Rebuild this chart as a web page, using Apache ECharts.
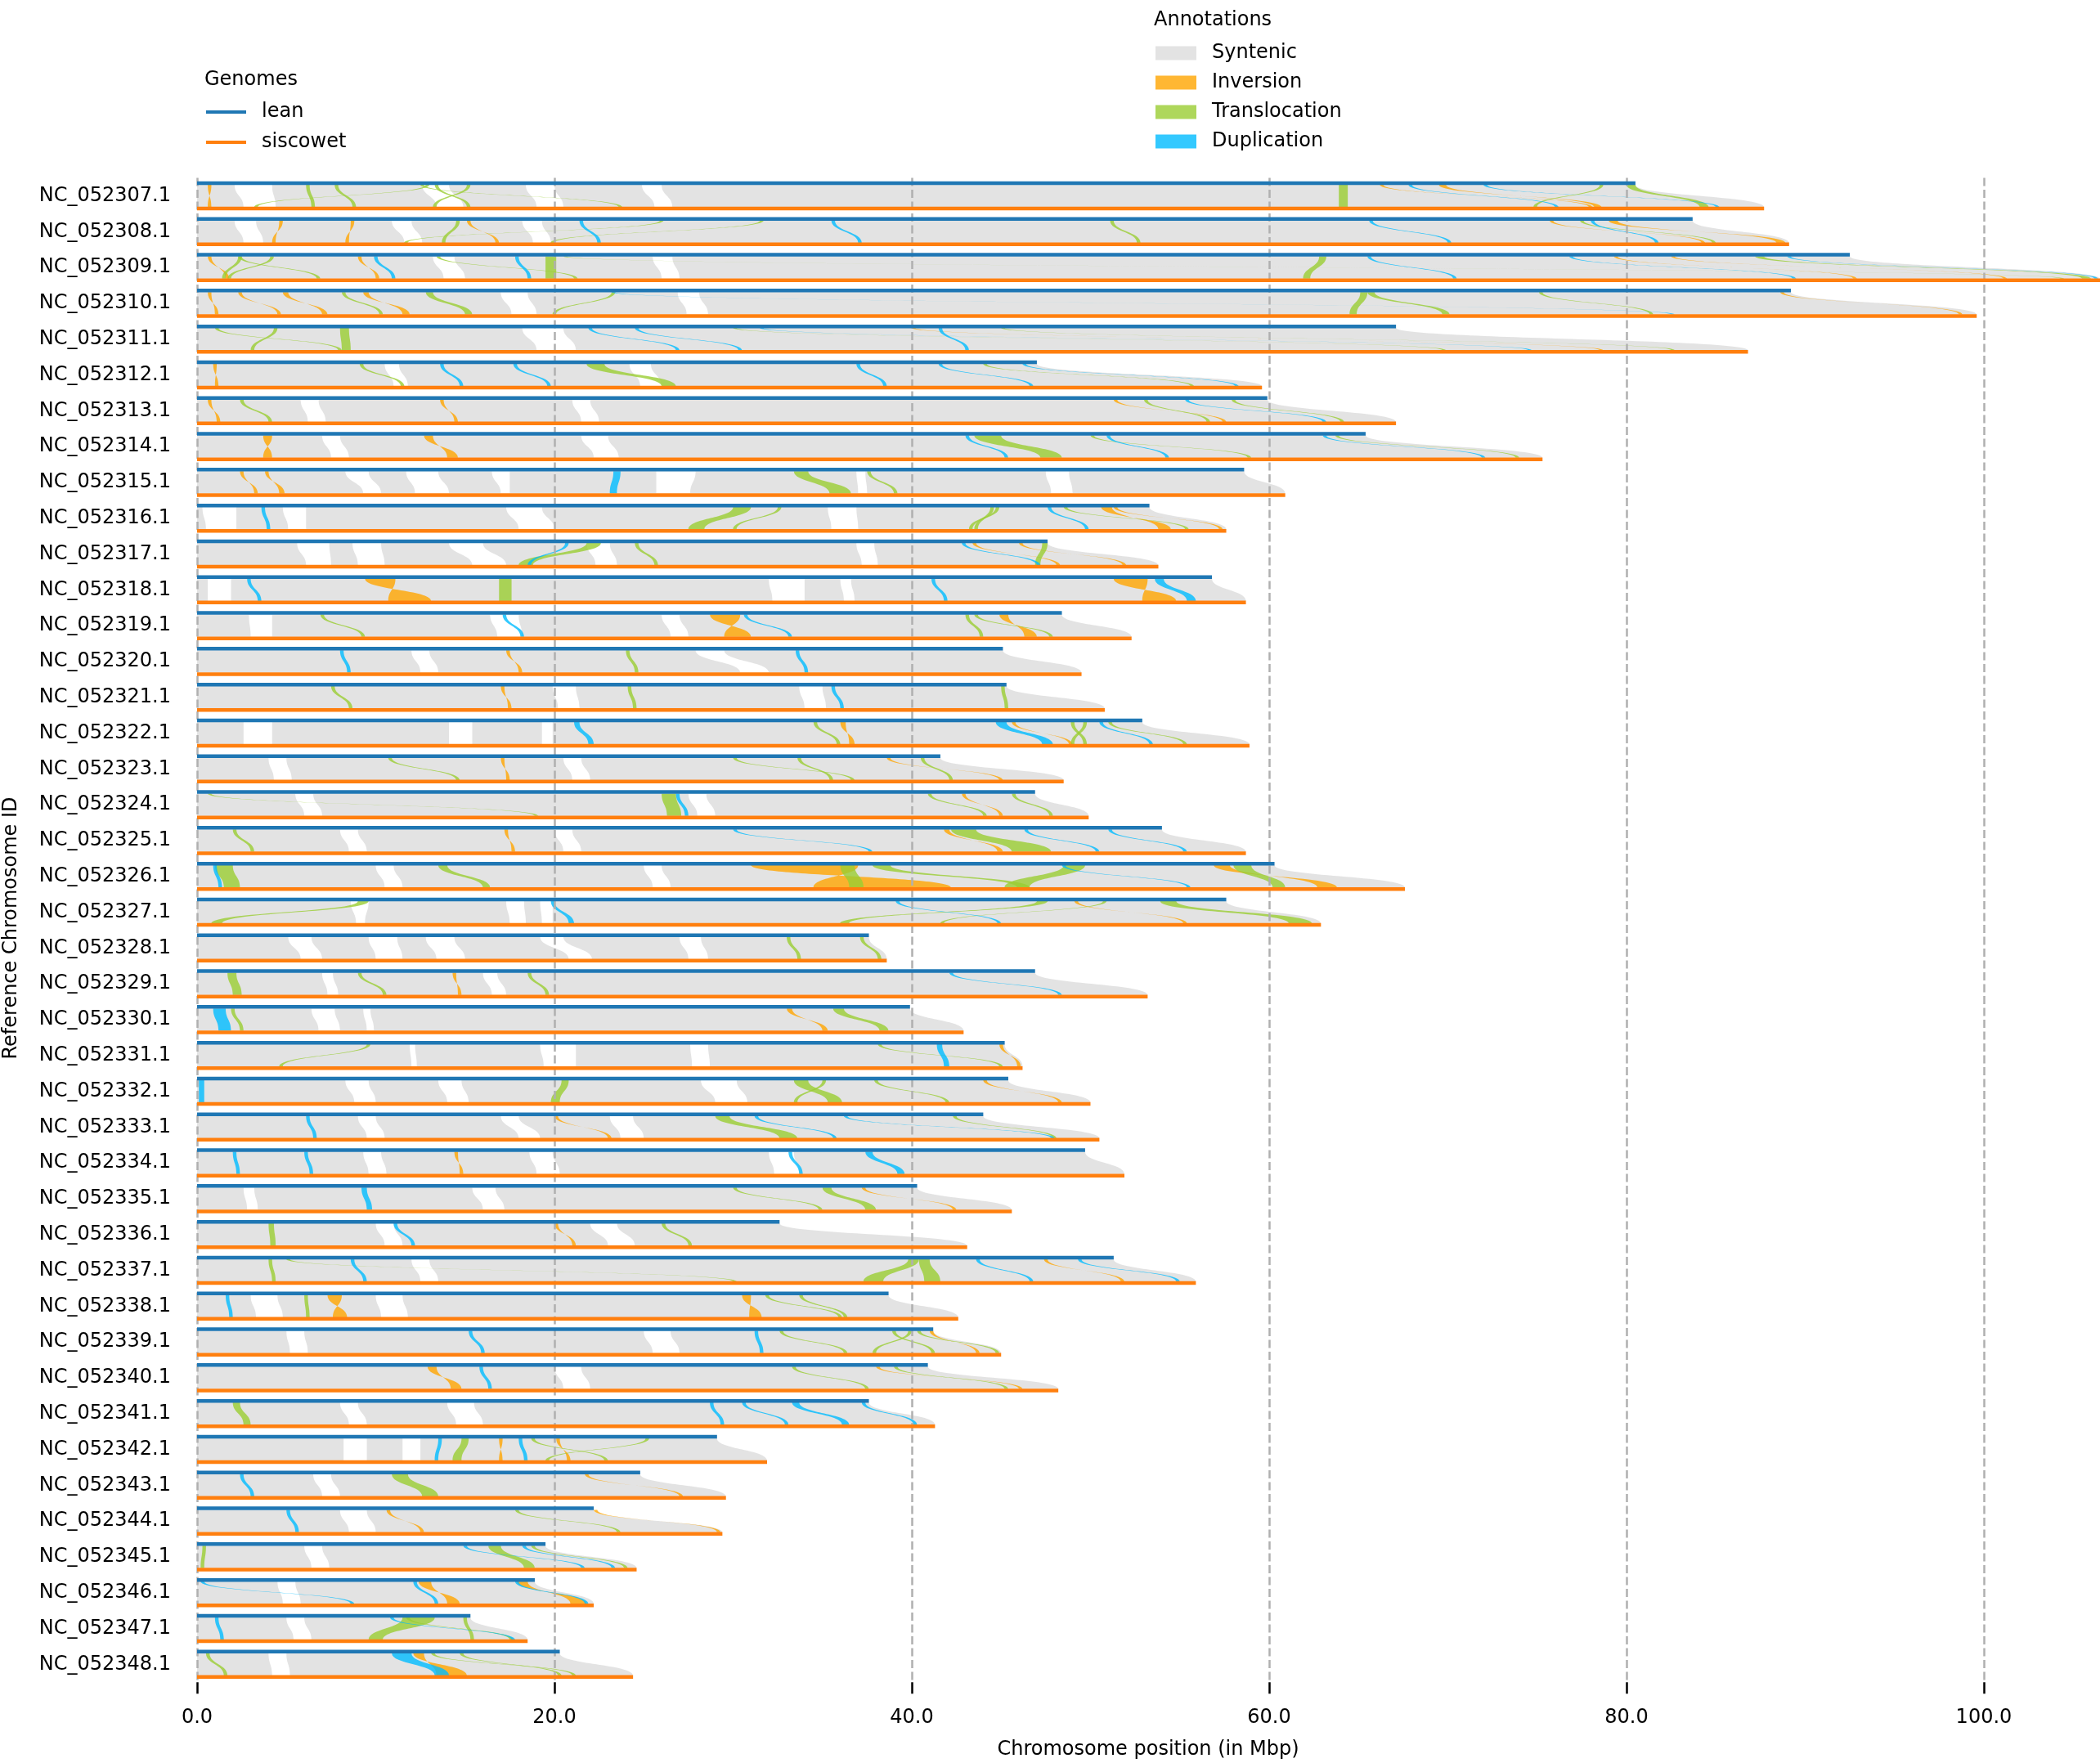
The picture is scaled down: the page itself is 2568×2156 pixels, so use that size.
<!DOCTYPE html>
<html>
<head>
<meta charset="utf-8">
<script src="https://cdn.jsdelivr.net/npm/echarts@6/dist/echarts.min.js"></script>
<style>
  html, body { margin: 0; padding: 0; background: #fff; }
  #chart { width: 2568px; height: 2156px; }
</style>
</head>
<body>
<div id="chart"></div>
<script>
// reference chromosomes, top to bottom
var chromosomes = ['NC_052307.1', 'NC_052308.1', 'NC_052309.1', 'NC_052310.1', 'NC_052311.1', 'NC_052312.1',
  'NC_052313.1', 'NC_052314.1', 'NC_052315.1', 'NC_052316.1', 'NC_052317.1', 'NC_052318.1',
  'NC_052319.1', 'NC_052320.1', 'NC_052321.1', 'NC_052322.1', 'NC_052323.1', 'NC_052324.1',
  'NC_052325.1', 'NC_052326.1', 'NC_052327.1', 'NC_052328.1', 'NC_052329.1', 'NC_052330.1',
  'NC_052331.1', 'NC_052332.1', 'NC_052333.1', 'NC_052334.1', 'NC_052335.1', 'NC_052336.1',
  'NC_052337.1', 'NC_052338.1', 'NC_052339.1', 'NC_052340.1', 'NC_052341.1', 'NC_052342.1',
  'NC_052343.1', 'NC_052344.1', 'NC_052345.1', 'NC_052346.1', 'NC_052347.1', 'NC_052348.1'];

// chromosome lengths in Mbp
var leanLength = [80.5, 83.7, 92.5, 89.2, 67.1, 47.0, 59.9, 65.4, 58.6, 53.3, 47.6, 56.8,
  48.4, 45.1, 45.3, 52.9, 41.6, 46.9, 54.0, 60.3, 57.6, 37.6, 46.9, 39.9,
  45.2, 45.4, 44.0, 49.7, 40.3, 32.6, 51.3, 38.7, 41.2, 40.9, 37.6, 29.1,
  24.8, 22.2, 19.5, 18.9, 15.3, 20.3];
var siscowetLength = [87.7, 89.1, 106.5, 99.6, 86.8, 59.6, 67.1, 75.3, 60.9, 57.6, 53.8, 58.7,
  52.3, 49.5, 50.8, 58.9, 48.5, 49.9, 58.7, 67.6, 62.9, 38.6, 53.2, 42.9,
  46.2, 50.0, 50.5, 51.9, 45.6, 43.1, 55.9, 42.6, 45.0, 48.2, 41.3, 31.9,
  29.6, 29.4, 24.6, 22.2, 18.5, 24.4];

var xTicks = [0, 20, 40, 60, 80, 100];

// all regions below: [row, lean start, lean end, siscowet start, siscowet end] (Mbp)
// unaligned stretches between syntenic blocks
var gaps = [
  [0, 2.1, 4.2, 2.6, 4.4], [0, 12.6, 14.1, 13.4, 14.9], [0, 18.4, 20.0, 19.0, 20.5], [0, 24.9, 26.0, 25.6, 26.6],
  [1, 2.1, 3.3, 2.6, 3.7], [1, 10.9, 12.0, 11.6, 12.6], [1, 18.2, 19.3, 18.8, 19.8],
  [2, 13.2, 14.4, 13.8, 15.0], [2, 25.5, 26.6, 26.0, 27.0],
  [3, 17.0, 18.5, 17.6, 19.0], [3, 26.9, 28.1, 27.4, 28.6],
  [4, 18.2, 20.5, 19.0, 21.2],
  [5, 10.5, 11.3, 11.0, 11.8], [5, 24.2, 25.4, 24.8, 26.0],
  [6, 5.8, 6.8, 6.2, 7.2], [6, 21.0, 22.0, 21.5, 22.5],
  [7, 7.0, 8.0, 7.5, 8.5], [7, 21.5, 23.0, 22.2, 23.6],
  [8, 8.3, 9.6, 9.3, 10.3], [8, 11.7, 13.5, 12.2, 14.1], [8, 16.5, 17.5, 17.0, 17.5], [8, 25.7, 27.9, 25.7, 27.6],
  [8, 36.9, 37.4, 37.0, 37.5], [8, 47.5, 48.8, 47.8, 49.0],
  [9, 0.3, 2.2, 0.5, 2.2], [9, 4.8, 6.1, 5.1, 6.1], [9, 17.3, 19.3, 18.0, 20.0], [9, 35.3, 36.9, 35.5, 37.0],
  [10, 5.6, 7.4, 6.1, 7.5], [10, 8.7, 10.3, 9.0, 10.5], [10, 14.1, 16.0, 15.4, 17.3], [10, 21.8, 23.1, 22.3, 23.5], [10, 36.9, 37.9, 37.2, 38.1],
  [11, 0.6, 1.9, 0.6, 1.9], [11, 32.0, 34.0, 32.2, 34.0], [11, 36.0, 36.6, 36.2, 36.8],
  [12, 2.9, 4.2, 3.0, 4.2], [12, 16.4, 18.0, 16.8, 18.2], [12, 26.0, 27.0, 26.5, 27.5],
  [13, 27.9, 29.5, 30.4, 32.0], [13, 12.0, 13.0, 12.5, 13.5],
  [14, 19.9, 21.2, 20.2, 21.4], [14, 33.7, 35.0, 34.0, 35.2],
  [15, 2.6, 4.2, 2.6, 4.2], [15, 14.1, 15.4, 14.1, 15.4], [15, 19.3, 19.9, 19.3, 19.9],
  [16, 4.0, 5.0, 4.3, 5.3], [16, 20.5, 21.5, 21.0, 22.0],
  [17, 5.5, 6.5, 6.0, 7.0], [17, 27.5, 28.5, 28.0, 29.0],
  [18, 8.0, 9.0, 8.5, 9.5], [18, 20.0, 21.0, 20.5, 21.5],
  [19, 10.0, 11.0, 10.5, 11.5], [19, 25.0, 26.0, 25.5, 26.5],
  [20, 8.6, 9.6, 8.9, 9.4], [20, 17.3, 18.3, 17.5, 18.4], [20, 19.2, 19.9, 19.3, 19.9],
  [21, 5.1, 6.4, 5.8, 7.0], [21, 9.6, 11.2, 10.0, 11.5], [21, 12.8, 14.4, 13.4, 15.0], [21, 19.2, 20.5, 20.8, 22.1], [21, 27.0, 28.2, 27.5, 28.6],
  [22, 7.0, 7.6, 7.3, 7.9], [22, 16.0, 16.8, 16.5, 17.3],
  [23, 6.4, 7.7, 6.8, 8.0], [23, 9.3, 9.7, 9.5, 9.9],
  [24, 19.2, 21.2, 19.4, 21.2], [24, 27.6, 28.6, 27.7, 28.7], [24, 11.9, 12.2, 12.0, 12.3],
  [25, 8.3, 9.6, 8.8, 10.0], [25, 13.5, 14.8, 14.0, 15.2], [25, 28.2, 30.2, 29.0, 30.8],
  [26, 9.0, 10.0, 9.5, 10.5], [26, 17.0, 18.0, 18.0, 19.2], [26, 23.1, 24.4, 23.7, 25.0],
  [27, 9.3, 10.3, 9.6, 10.6], [27, 18.6, 19.9, 19.0, 20.3], [27, 32.0, 33.4, 32.3, 33.7],
  [28, 2.6, 3.2, 2.8, 3.4], [28, 15.4, 16.7, 16.0, 17.2],
  [29, 10.0, 11.0, 10.5, 11.5], [29, 22.0, 23.5, 23.0, 24.5],
  [30, 12.0, 13.0, 12.5, 13.5],
  [31, 3.0, 4.5, 3.3, 4.8], [31, 10.0, 11.5, 10.3, 11.8],
  [32, 5.0, 6.0, 5.2, 6.2], [32, 25.0, 26.5, 25.5, 27.0],
  [33, 20.0, 21.5, 20.5, 22.0],
  [34, 8.0, 9.0, 8.5, 9.5], [34, 14.0, 15.5, 14.5, 16.0],
  [35, 8.2, 9.5, 8.2, 9.5], [35, 11.5, 12.5, 11.5, 12.5],
  [36, 6.5, 7.5, 7.0, 8.0],
  [37, 8.0, 9.5, 8.5, 10.0],
  [38, 6.0, 7.0, 6.4, 7.4],
  [39, 4.5, 5.5, 4.8, 5.8],
  [40, 5.0, 6.0, 5.4, 6.4],
  [41, 4.0, 5.0, 4.2, 5.2]
];
var inversions = [
  [0, 0.6, 0.8, 0.6, 0.8], [0, 66.2, 66.4, 77.9, 78.1], [0, 69.5, 69.9, 78.2, 78.6],
  [1, 4.6, 4.8, 4.2, 4.4], [1, 8.6, 8.8, 8.3, 8.5], [1, 15.1, 15.3, 16.7, 16.9], [1, 75.7, 75.9, 84.2, 84.4], [1, 79.0, 79.5, 88.4, 88.9],
  [2, 0.6, 0.8, 1.6, 1.8], [2, 9.0, 9.2, 10.0, 10.2], [2, 79.3, 79.5, 92.7, 92.9], [2, 82.5, 82.7, 101.1, 101.3],
  [3, 0.6, 0.8, 1.0, 1.2], [3, 2.3, 2.5, 4.5, 4.7], [3, 4.8, 5.1, 7.0, 7.3], [3, 9.3, 9.6, 11.5, 11.9], [3, 88.6, 88.8, 98.6, 98.8],
  [4, 40.0, 40.2, 78.5, 78.7],
  [5, 0.9, 1.1, 1.0, 1.2],
  [6, 0.6, 0.8, 1.1, 1.3], [6, 13.6, 13.8, 14.4, 14.6], [6, 51.3, 51.5, 57.4, 57.6],
  [7, 3.7, 4.2, 3.7, 4.2], [7, 12.7, 13.2, 14.0, 14.6],
  [8, 2.4, 2.6, 3.2, 3.4], [8, 3.8, 4.0, 4.6, 4.9],
  [9, 50.6, 51.2, 53.8, 54.5], [9, 51.3, 51.5, 57.2, 57.4],
  [10, 43.4, 43.6, 48.1, 48.3], [10, 46.0, 46.2, 51.8, 52.0],
  [11, 9.4, 11.1, 10.7, 13.1], [11, 51.3, 53.2, 52.9, 54.8],
  [12, 28.7, 30.4, 29.5, 31.0], [12, 44.9, 45.4, 46.3, 47.0],
  [13, 17.3, 17.5, 18.0, 18.2],
  [14, 17.0, 17.2, 17.4, 17.6],
  [15, 36.0, 36.3, 36.5, 36.8], [15, 45.6, 45.8, 48.8, 49.0],
  [16, 17.0, 17.2, 17.3, 17.5], [16, 38.6, 38.8, 44.9, 45.1],
  [17, 42.8, 43.0, 44.9, 45.1],
  [18, 17.2, 17.4, 17.6, 17.8], [18, 41.8, 42.1, 44.8, 45.1],
  [19, 31.0, 37.0, 34.5, 42.2], [19, 56.9, 57.8, 62.7, 63.8],
  [20, 49.1, 49.3, 55.2, 55.4],
  [22, 14.3, 14.5, 14.6, 14.8],
  [23, 33.0, 33.3, 35.0, 35.3],
  [24, 44.9, 45.1, 45.9, 46.1],
  [25, 44.0, 44.2, 48.2, 48.4],
  [26, 20.0, 20.2, 23.0, 23.2],
  [27, 14.4, 14.6, 14.7, 14.9],
  [28, 37.2, 37.4, 42.3, 42.5],
  [29, 20.0, 20.2, 21.0, 21.2],
  [30, 47.4, 47.6, 51.7, 51.9],
  [31, 7.3, 8.1, 7.6, 8.4], [31, 30.5, 31.0, 30.9, 31.6],
  [32, 41.0, 41.2, 43.6, 43.8],
  [33, 12.9, 13.4, 14.2, 14.8], [33, 38.0, 38.2, 46.0, 46.2],
  [35, 16.9, 17.1, 16.9, 17.1], [35, 20.1, 20.3, 20.7, 20.9],
  [36, 21.7, 21.9, 27.0, 27.2],
  [37, 10.6, 10.8, 12.5, 12.7], [37, 22.2, 22.4, 29.1, 29.3],
  [39, 12.4, 13.1, 14.0, 14.7], [39, 17.9, 18.5, 20.9, 21.8],
  [41, 12.1, 12.7, 13.4, 15.1]
];
var translocations = [
  [0, 6.1, 6.3, 6.4, 6.6], [0, 7.7, 7.9, 8.7, 8.9], [0, 12.5, 12.7, 23.6, 23.8], [0, 15.1, 15.3, 13.2, 13.4],
  [0, 13.3, 13.5, 15.1, 15.3], [0, 12.8, 13.0, 3.2, 3.4], [0, 63.9, 64.4, 63.9, 64.4], [0, 78.5, 78.7, 74.8, 75.0], [0, 80.0, 80.5, 84.1, 84.6],
  [1, 14.5, 14.7, 13.7, 13.9], [1, 25.9, 26.1, 11.6, 11.8], [1, 31.5, 31.7, 19.8, 20.0], [1, 51.1, 51.3, 52.6, 52.8], [1, 77.4, 77.6, 84.8, 85.0],
  [2, 2.3, 2.5, 1.4, 1.6], [2, 4.1, 4.3, 1.7, 1.9], [2, 2.3, 2.5, 6.7, 6.9], [2, 19.5, 20.1, 19.5, 20.1], [2, 13.4, 13.6, 21.1, 21.3],
  [2, 20.5, 20.7, 104.3, 104.5], [2, 62.8, 63.2, 61.9, 62.3], [2, 87.2, 87.7, 105.5, 106.0],
  [3, 8.1, 8.3, 10.2, 10.4], [3, 12.8, 13.2, 15.0, 15.4], [3, 23.2, 23.4, 19.9, 20.1], [3, 65.1, 65.5, 64.5, 64.9],
  [3, 65.5, 65.9, 69.7, 70.1], [3, 75.1, 75.3, 81.3, 81.5],
  [4, 1.0, 1.2, 7.9, 8.1], [4, 4.3, 4.5, 3.0, 3.2], [4, 8.0, 8.5, 8.1, 8.6], [4, 45.0, 45.2, 82.5, 82.7], [4, 30.0, 30.2, 69.7, 69.9],
  [5, 9.1, 9.3, 11.4, 11.6], [5, 21.8, 22.8, 26.0, 26.8], [5, 44.0, 44.2, 55.6, 55.8],
  [6, 2.4, 2.6, 4.0, 4.2], [6, 53.0, 53.2, 56.5, 56.7], [6, 57.9, 58.1, 64.0, 64.2],
  [7, 43.5, 45.0, 47.2, 48.4], [7, 50.0, 50.2, 58.8, 59.0], [7, 63.7, 63.9, 73.8, 74.0],
  [8, 33.4, 34.2, 35.4, 36.6], [8, 37.5, 37.7, 39.0, 39.2],
  [9, 30.0, 31.0, 27.5, 28.4], [9, 32.5, 32.7, 30.0, 30.2], [9, 44.4, 44.6, 43.5, 43.7], [9, 44.7, 44.9, 43.2, 43.4], [9, 48.5, 48.7, 55.3, 55.5],
  [10, 21.8, 22.6, 18.0, 18.8], [10, 24.5, 24.7, 25.6, 25.8], [10, 47.3, 47.6, 46.9, 47.2],
  [11, 16.9, 17.6, 16.9, 17.6],
  [12, 43.0, 43.2, 43.8, 44.0], [12, 43.5, 43.7, 47.7, 47.9], [12, 6.9, 7.1, 9.2, 9.4],
  [13, 24.0, 24.2, 24.5, 24.7],
  [14, 24.1, 24.3, 24.4, 24.6], [14, 45.0, 45.2, 45.2, 45.4], [14, 7.5, 7.7, 8.5, 8.7],
  [15, 34.5, 34.7, 35.8, 36.0], [15, 49.6, 49.8, 48.9, 49.1], [15, 48.9, 49.1, 49.6, 49.8], [15, 51.0, 51.2, 55.2, 55.4],
  [16, 10.7, 10.9, 14.5, 14.7], [16, 33.6, 33.8, 35.4, 35.6], [16, 40.5, 40.7, 42.1, 42.3], [16, 30.0, 30.2, 36.6, 36.8],
  [17, 0.6, 0.8, 18.9, 19.1], [17, 26.0, 26.8, 26.3, 27.1], [17, 40.9, 41.1, 44.0, 44.2], [17, 45.6, 45.8, 47.7, 47.9],
  [18, 2.0, 2.2, 3.0, 3.2], [18, 42.2, 43.6, 45.6, 47.8],
  [19, 36.0, 36.8, 36.5, 37.3], [19, 37.8, 38.8, 45.9, 46.6], [19, 48.5, 49.7, 45.2, 46.6], [19, 58.0, 59.0, 60.2, 60.9],
  [19, 1.0, 2.0, 1.5, 2.4], [19, 13.5, 14.0, 16.0, 16.4],
  [20, 9.0, 9.6, 0.8, 1.4], [20, 47.0, 47.6, 36.0, 36.5], [20, 50.7, 50.9, 41.6, 41.8], [20, 53.9, 54.8, 61.1, 62.4],
  [21, 33.0, 33.2, 33.6, 33.8], [21, 37.1, 37.3, 38.1, 38.3],
  [22, 1.7, 2.2, 2.0, 2.5], [22, 9.0, 9.2, 10.4, 10.6], [22, 18.5, 18.7, 19.5, 19.7],
  [23, 1.9, 2.1, 2.4, 2.6], [23, 35.6, 36.2, 38.2, 38.7],
  [24, 9.5, 9.7, 4.6, 4.8], [24, 38.1, 38.3, 44.9, 45.1],
  [25, 20.4, 20.8, 19.8, 20.3], [25, 33.4, 34.2, 35.3, 36.1], [25, 35.0, 35.2, 33.4, 33.6], [25, 37.9, 38.1, 41.9, 42.1],
  [26, 29.0, 29.8, 32.6, 33.6], [26, 42.3, 42.5, 47.9, 48.1],
  [28, 35.0, 35.5, 37.4, 38.0], [28, 30.0, 30.2, 34.8, 35.0],
  [29, 4.0, 4.3, 4.1, 4.4], [29, 26.0, 26.2, 27.5, 27.7],
  [30, 4.0, 4.2, 4.2, 4.4], [30, 39.8, 40.4, 37.3, 38.4], [30, 40.4, 41.0, 40.7, 41.6], [30, 5.0, 5.2, 30.0, 30.2],
  [31, 6.0, 6.2, 6.1, 6.3], [31, 31.8, 32.0, 35.9, 36.1], [31, 33.7, 33.9, 36.2, 36.4],
  [32, 32.6, 32.8, 36.2, 36.4], [32, 39.8, 40.0, 37.8, 38.0], [32, 38.9, 39.1, 41.1, 41.3], [32, 40.3, 40.5, 44.7, 44.9],
  [33, 33.3, 33.5, 37.4, 37.6], [33, 39.0, 39.2, 45.2, 45.4],
  [34, 2.0, 2.4, 2.6, 3.0],
  [35, 14.8, 15.2, 14.3, 14.8], [35, 18.7, 18.9, 22.8, 23.0], [35, 25.1, 25.3, 19.5, 19.7],
  [36, 10.9, 11.8, 12.6, 13.5],
  [37, 17.8, 18.0, 23.5, 23.7],
  [38, 16.3, 17.0, 18.3, 18.9], [38, 18.7, 18.9, 23.9, 24.1], [38, 0.3, 0.5, 0.2, 0.4],
  [40, 11.5, 13.3, 9.6, 10.4], [40, 14.9, 15.1, 15.3, 15.5], [40, 11.7, 11.9, 17.5, 17.7],
  [41, 13.1, 13.3, 21.0, 21.2], [41, 14.7, 14.9, 20.2, 20.4], [41, 0.5, 0.7, 1.5, 1.7]
];
var duplications = [
  [0, 67.8, 68.0, 76.0, 76.2], [0, 72.0, 72.2, 85.0, 85.2],
  [1, 21.4, 21.6, 22.4, 22.6], [1, 35.5, 35.7, 37.0, 37.2], [1, 65.6, 65.8, 70.0, 70.2], [1, 78.0, 78.2, 81.6, 81.8],
  [2, 9.9, 10.1, 10.9, 11.1], [2, 17.8, 18.0, 18.5, 18.7], [2, 65.5, 65.7, 70.3, 70.5], [2, 76.8, 77.0, 89.3, 89.5], [2, 89.0, 89.2, 106.2, 106.4],
  [3, 23.2, 23.4, 82.5, 82.7],
  [4, 21.9, 22.1, 26.8, 27.0], [4, 24.5, 24.7, 30.3, 30.5], [4, 31.5, 31.7, 74.5, 74.7], [4, 41.5, 41.7, 43.0, 43.2],
  [5, 13.6, 13.8, 14.7, 14.9], [5, 17.7, 17.9, 19.6, 19.8], [5, 36.9, 37.1, 38.4, 38.6], [5, 46.2, 46.4, 58.1, 58.3], [5, 41.5, 41.7, 46.6, 46.8],
  [6, 55.3, 55.5, 63.0, 63.2],
  [7, 43.0, 43.2, 45.2, 45.4], [7, 50.9, 51.1, 54.2, 54.4], [7, 63.0, 63.2, 71.9, 72.1],
  [8, 23.3, 23.7, 23.1, 23.5],
  [9, 3.6, 3.8, 3.9, 4.1], [9, 47.6, 47.8, 49.7, 49.9],
  [10, 20.6, 20.8, 18.5, 18.7], [10, 42.8, 43.0, 47.0, 47.2],
  [11, 41.1, 41.3, 41.8, 42.0], [11, 53.6, 54.1, 55.4, 55.9], [11, 2.8, 3.0, 3.4, 3.6],
  [12, 17.1, 17.3, 18.1, 18.3], [12, 30.6, 30.8, 33.1, 33.3],
  [13, 8.0, 8.2, 8.4, 8.6], [13, 33.5, 33.7, 34.0, 34.2],
  [14, 35.5, 35.7, 36.0, 36.2],
  [15, 21.1, 21.4, 21.9, 22.2], [15, 44.7, 45.3, 47.3, 47.9], [15, 50.5, 50.7, 53.3, 53.5],
  [17, 26.8, 27.0, 27.3, 27.5],
  [18, 30.0, 30.2, 37.6, 37.8], [18, 46.3, 46.5, 50.3, 50.5], [18, 51.0, 51.2, 55.2, 55.4],
  [19, 48.4, 48.6, 55.4, 55.6], [19, 0.9, 1.1, 1.2, 1.4],
  [20, 19.8, 20.0, 20.8, 21.1], [20, 39.1, 39.3, 44.8, 45.0],
  [22, 42.1, 42.3, 48.2, 48.4],
  [23, 0.9, 1.6, 1.2, 1.9],
  [24, 41.4, 41.7, 41.8, 42.1],
  [25, 0.1, 0.4, 0.1, 0.4],
  [26, 6.1, 6.3, 6.5, 6.7], [26, 31.2, 31.4, 35.6, 35.8], [26, 36.2, 36.4, 47.8, 48.0],
  [27, 2.0, 2.2, 2.2, 2.4], [27, 6.0, 6.2, 6.3, 6.5], [27, 33.1, 33.3, 33.7, 33.9], [27, 37.4, 37.8, 39.2, 39.6],
  [28, 9.2, 9.5, 9.5, 9.8],
  [29, 11.0, 11.2, 12.0, 12.2],
  [30, 8.6, 8.8, 9.3, 9.5], [30, 43.6, 43.8, 46.6, 46.8], [30, 49.3, 49.5, 54.8, 55.0],
  [31, 1.6, 1.8, 1.8, 2.0],
  [32, 15.2, 15.4, 15.9, 16.1], [32, 31.2, 31.4, 31.5, 31.7],
  [33, 15.8, 16.0, 16.3, 16.5],
  [34, 28.7, 28.9, 29.3, 29.5], [34, 30.5, 30.7, 32.9, 33.1], [34, 33.3, 33.7, 36.1, 36.5], [34, 37.2, 37.4, 40.1, 40.3],
  [35, 13.5, 13.7, 13.3, 13.5], [35, 18.0, 18.2, 18.3, 18.5],
  [36, 2.4, 2.6, 3.0, 3.2],
  [37, 5.0, 5.2, 5.5, 5.7],
  [38, 14.9, 15.1, 21.5, 21.7], [38, 18.2, 18.4, 23.2, 23.4],
  [39, 12.1, 12.3, 13.3, 13.5], [39, 0.2, 0.4, 8.6, 8.8], [39, 17.8, 18.0, 21.7, 21.9],
  [40, 10.8, 11.0, 17.6, 17.8], [40, 1.0, 1.2, 1.3, 1.5],
  [41, 10.9, 12.0, 13.3, 14.1]
];

var FONT = 'DejaVu Sans';
var BAR_OFF = 0.355;   // genome line offset from row centre
var RIB_OFF = 0.31;    // ribbon ends, just inside the lines

var syntenic = chromosomes.map(function (c, i) {
  return [i, 0, leanLength[i], 0, siscowetLength[i]];
});
var leanBars = chromosomes.map(function (c, i) { return [i, leanLength[i]]; });
var siscowetBars = chromosomes.map(function (c, i) { return [i, siscowetLength[i]]; });

function ribbon(color, twisted) {
  return function (params, api) {
    var r = api.value(0);
    var yT = api.coord([0, r - RIB_OFF])[1];
    var yB = api.coord([0, r + RIB_OFF])[1];
    var yM = (yT + yB) / 2;
    var a = api.coord([api.value(1), r])[0];
    var b = api.coord([api.value(2), r])[0];
    var c = api.coord([api.value(3), r])[0];
    var d = api.coord([api.value(4), r])[0];
    var p;
    if (twisted) {
      // inversion: start on top goes to end below
      p = 'M' + a + ' ' + yT + 'L' + b + ' ' + yT + 'C' + b + ' ' + yM + ' ' + c + ' ' + yM + ' ' + c + ' ' + yB +
        'L' + d + ' ' + yB + 'C' + d + ' ' + yM + ' ' + a + ' ' + yM + ' ' + a + ' ' + yT + 'Z';
    } else {
      p = 'M' + a + ' ' + yT + 'L' + b + ' ' + yT + 'C' + b + ' ' + yM + ' ' + d + ' ' + yM + ' ' + d + ' ' + yB +
        'L' + c + ' ' + yB + 'C' + c + ' ' + yM + ' ' + a + ' ' + yM + ' ' + a + ' ' + yT + 'Z';
    }
    return { type: 'path', shape: { pathData: p }, style: { fill: color } };
  };
}

function bar(color, off) {
  return function (params, api) {
    var r = api.value(0);
    var s = api.coord([0, r + off]);
    var e = api.coord([api.value(1), r + off]);
    return { type: 'line', shape: { x1: s[0], y1: s[1], x2: e[0], y2: e[1] },
      style: { stroke: color, lineWidth: 4.5, lineCap: 'butt' } };
  };
}

var colors = {
  syn: 'rgba(222,222,222,0.85)',
  inv: 'rgba(255,165,0,0.8)',
  tra: 'rgba(154,205,50,0.8)',
  dup: 'rgba(0,187,255,0.8)',
  lean: '#1f77b4',
  sis: '#ff7f0e'
};

function ribbonSeries(name, data, color, twisted) {
  return {
    name: name, type: 'custom', xAxisIndex: 0, yAxisIndex: 1, z: 2,
    itemStyle: { color: color },
    renderItem: ribbon(color, twisted),
    data: data
  };
}

var chart = echarts.init(document.getElementById('chart'));
chart.setOption({
  animation: false,
  backgroundColor: '#fff',
  textStyle: { fontFamily: FONT },
  grid: { left: 241, top: 217.6, right: 0, height: 1839.6 },
  xAxis: {
    type: 'value', min: 0, max: 106.5, interval: 20, z: 3,
    axisLine: { show: false, onZero: false },
    axisTick: { show: true, length: 14, customValues: xTicks, lineStyle: { color: '#000', width: 2.5 } },
    axisLabel: { fontSize: 24, color: '#000', margin: 32, fontFamily: FONT, customValues: xTicks,
      formatter: function (v) { return v % 20 === 0 ? v.toFixed(1) : ''; } },
    splitLine: { show: true, lineStyle: { color: '#b0b0b0', width: 2.5, type: [10, 4.5] } }
  },
  yAxis: [{
    type: 'category', data: chromosomes, inverse: true,
    axisLine: { show: false }, axisTick: { show: false },
    axisLabel: { fontSize: 24, color: '#000', margin: 32, fontFamily: FONT }
  }, {
    type: 'value', min: -0.5, max: 41.5, inverse: true, show: false
  }],
  legend: [{
    data: ['lean', 'siscowet'],
    orient: 'vertical', left: 247, top: 118, itemGap: 9,
    itemWidth: 49, itemHeight: 4, icon: 'rect',
    textStyle: { fontSize: 24, color: '#000', fontFamily: FONT, lineHeight: 28, padding: [0, 0, 0, 14] }
  }, {
    data: ['Syntenic', 'Inversion', 'Translocation', 'Duplication'],
    orient: 'vertical', left: 1408, top: 46, itemGap: 8,
    itemWidth: 50, itemHeight: 17, icon: 'rect',
    textStyle: { fontSize: 24, color: '#000', fontFamily: FONT, lineHeight: 28, padding: [0, 0, 0, 14] }
  }],
  graphic: [
    { type: 'text', left: 250, top: 86, style: { text: 'Genomes', font: '24px "DejaVu Sans"', fill: '#000' } },
    { type: 'text', left: 1411, top: 13, style: { text: 'Annotations', font: '24px "DejaVu Sans"', fill: '#000' } },
    { type: 'text', x: 1404, y: 2140, style: { text: 'Chromosome position (in Mbp)', font: '24px "DejaVu Sans"',
      fill: '#000', align: 'center', verticalAlign: 'middle' } },
    { type: 'text', x: 14, y: 1135, rotation: Math.PI / 2, style: { text: 'Reference Chromosome ID',
      font: '24px "DejaVu Sans"', fill: '#000', align: 'center', verticalAlign: 'middle' } }
  ],
  series: [
    ribbonSeries('Syntenic', syntenic, colors.syn, false),
    ribbonSeries('unaligned', gaps, '#ffffff', false),
    ribbonSeries('Inversion', inversions, colors.inv, true),
    ribbonSeries('Translocation', translocations, colors.tra, false),
    ribbonSeries('Duplication', duplications, colors.dup, false),
    { name: 'lean', type: 'custom', xAxisIndex: 0, yAxisIndex: 1, z: 5, itemStyle: { color: colors.lean },
      renderItem: bar(colors.lean, -BAR_OFF), data: leanBars },
    { name: 'siscowet', type: 'custom', xAxisIndex: 0, yAxisIndex: 1, z: 5, itemStyle: { color: colors.sis },
      renderItem: bar(colors.sis, BAR_OFF), data: siscowetBars }
  ]
});
</script>
</body>
</html>
